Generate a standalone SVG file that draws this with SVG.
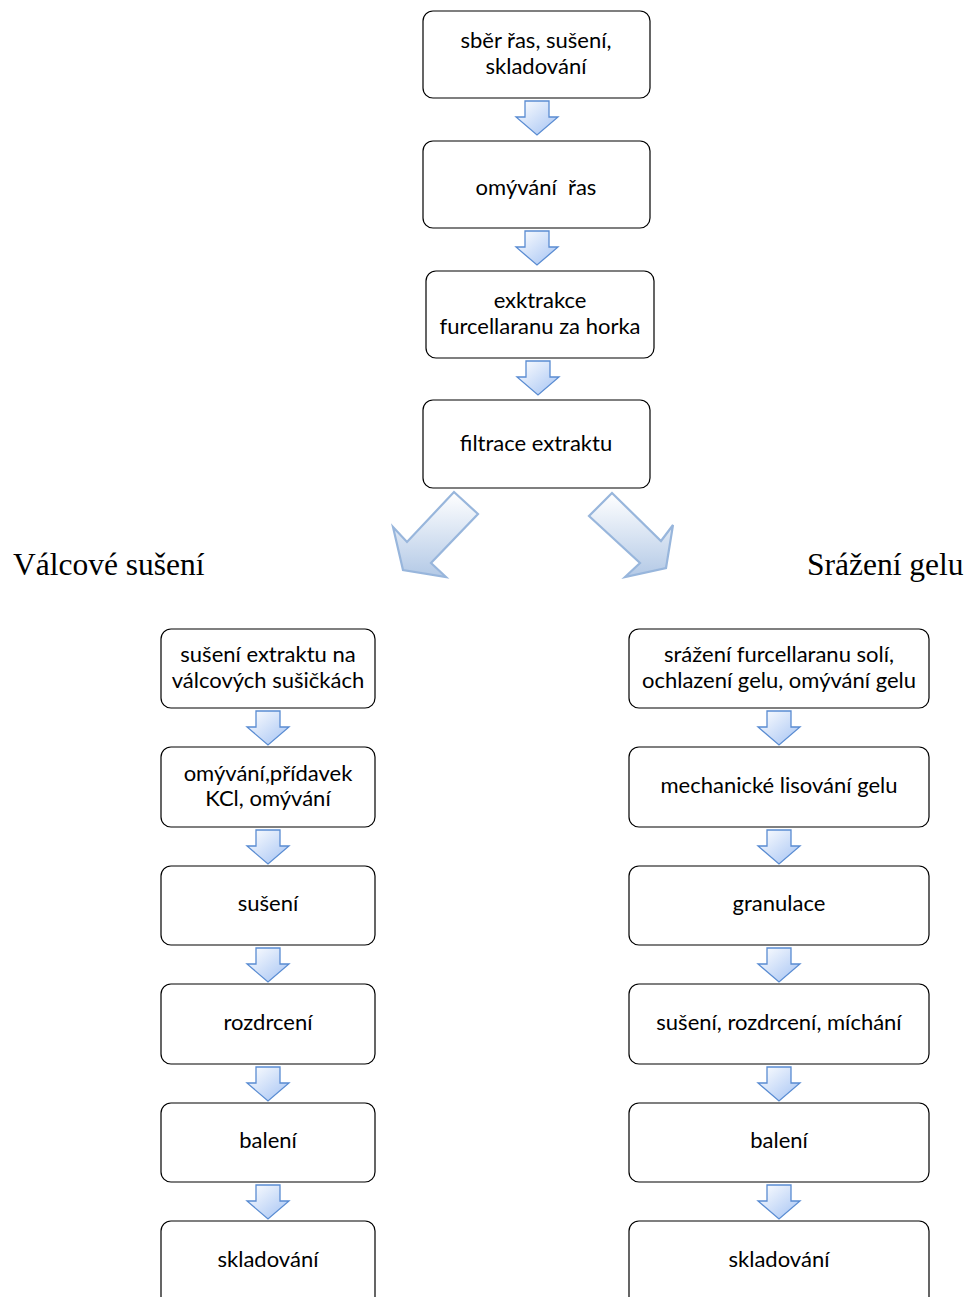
<svg xmlns="http://www.w3.org/2000/svg" width="970" height="1297" viewBox="0 0 970 1297">
<defs>
<linearGradient id="ga" x1="0" y1="0" x2="1" y2="1">
<stop offset="0" stop-color="#ffffff"/>
<stop offset="1" stop-color="#a3c2f3"/>
</linearGradient>
<linearGradient id="gd" x1="0" y1="0" x2="0" y2="1">
<stop offset="0" stop-color="#ffffff"/>
<stop offset="1" stop-color="#b3c9e6"/>
</linearGradient>
<path id="da" d="M-12,0 H12 V16 H21 L0,34 L-21,16 H-12 Z"/>
</defs>
<style>
.b{fill:#fff;stroke:#000;stroke-width:1.2}
.t{font-family:Lato,"Noto Sans",sans-serif;font-size:22px;fill:#000;text-anchor:middle}
.h{font-family:"Liberation Serif",serif;font-size:31.5px;fill:#000}
.a{fill:url(#ga);stroke:#5a8cd2;stroke-width:1.3}
.d{fill:url(#gd);stroke:#98b6dc;stroke-width:2.2;stroke-linejoin:miter}
</style>
<rect width="970" height="1297" fill="#fff"/>
<g id="connectors">
<use href="#da" class="a" x="537" y="101"/>
<use href="#da" class="a" x="537" y="231"/>
<use href="#da" class="a" x="538" y="361"/>
<polygon class="d" points="454,492 478,514 431,563 446,577 403,570 393,527 407,542"/>
<polygon class="d" points="612,493 589,516 640,563 625,577 666,568 673,525 661,541"/>
<use href="#da" class="a" x="268" y="711"/>
<use href="#da" class="a" x="268" y="830"/>
<use href="#da" class="a" x="268" y="948"/>
<use href="#da" class="a" x="268" y="1067"/>
<use href="#da" class="a" x="268" y="1185"/>
<use href="#da" class="a" x="779" y="711"/>
<use href="#da" class="a" x="779" y="830"/>
<use href="#da" class="a" x="779" y="948"/>
<use href="#da" class="a" x="779" y="1067"/>
<use href="#da" class="a" x="779" y="1185"/>
</g>
<g id="n1"><rect class="b" x="423" y="11" width="227" height="87" rx="10"/><text class="t" x="536" y="48">sběr řas, sušení,</text><text class="t" x="536" y="74">skladování</text></g>
<g id="n2"><rect class="b" x="423" y="141" width="227" height="87" rx="10"/><text class="t" x="536" y="195" xml:space="preserve">omývání  řas</text></g>
<g id="n3"><rect class="b" x="426" y="271" width="228" height="87" rx="10"/><text class="t" x="540" y="308">exktrakce</text><text class="t" x="540" y="334">furcellaranu za horka</text></g>
<g id="n4"><rect class="b" x="423" y="400" width="227" height="88" rx="10"/><text class="t" x="536" y="451">filtrace extraktu</text></g>
<g id="lbl-left"><text class="h" x="13" y="575">Válcové sušení</text></g>
<g id="lbl-right"><text class="h" x="807" y="575">Srážení gelu</text></g>
<g id="l1"><rect class="b" x="161" y="629" width="214" height="79" rx="10"/><text class="t" x="268" y="662">sušení extraktu na</text><text class="t" x="268" y="688">válcových sušičkách</text></g>
<g id="l2"><rect class="b" x="161" y="747" width="214" height="80" rx="10"/><text class="t" x="268" y="781">omývání,přídavek</text><text class="t" x="268" y="806">KCl, omývání</text></g>
<g id="l3"><rect class="b" x="161" y="866" width="214" height="79" rx="10"/><text class="t" x="268" y="911">sušení</text></g>
<g id="l4"><rect class="b" x="161" y="984" width="214" height="80" rx="10"/><text class="t" x="268" y="1030">rozdrcení</text></g>
<g id="l5"><rect class="b" x="161" y="1103" width="214" height="79" rx="10"/><text class="t" x="268" y="1148">balení</text></g>
<g id="l6"><rect class="b" x="161" y="1221" width="214" height="90" rx="10"/><text class="t" x="268" y="1267">skladování</text></g>
<g id="r1"><rect class="b" x="629" y="629" width="300" height="79" rx="10"/><text class="t" x="779" y="662">srážení furcellaranu solí,</text><text class="t" x="779" y="688">ochlazení gelu, omývání gelu</text></g>
<g id="r2"><rect class="b" x="629" y="747" width="300" height="80" rx="10"/><text class="t" x="779" y="793">mechanické lisování gelu</text></g>
<g id="r3"><rect class="b" x="629" y="866" width="300" height="79" rx="10"/><text class="t" x="779" y="911">granulace</text></g>
<g id="r4"><rect class="b" x="629" y="984" width="300" height="80" rx="10"/><text class="t" x="779" y="1030">sušení, rozdrcení, míchání</text></g>
<g id="r5"><rect class="b" x="629" y="1103" width="300" height="79" rx="10"/><text class="t" x="779" y="1148">balení</text></g>
<g id="r6"><rect class="b" x="629" y="1221" width="300" height="90" rx="10"/><text class="t" x="779" y="1267">skladování</text></g>
</svg>
